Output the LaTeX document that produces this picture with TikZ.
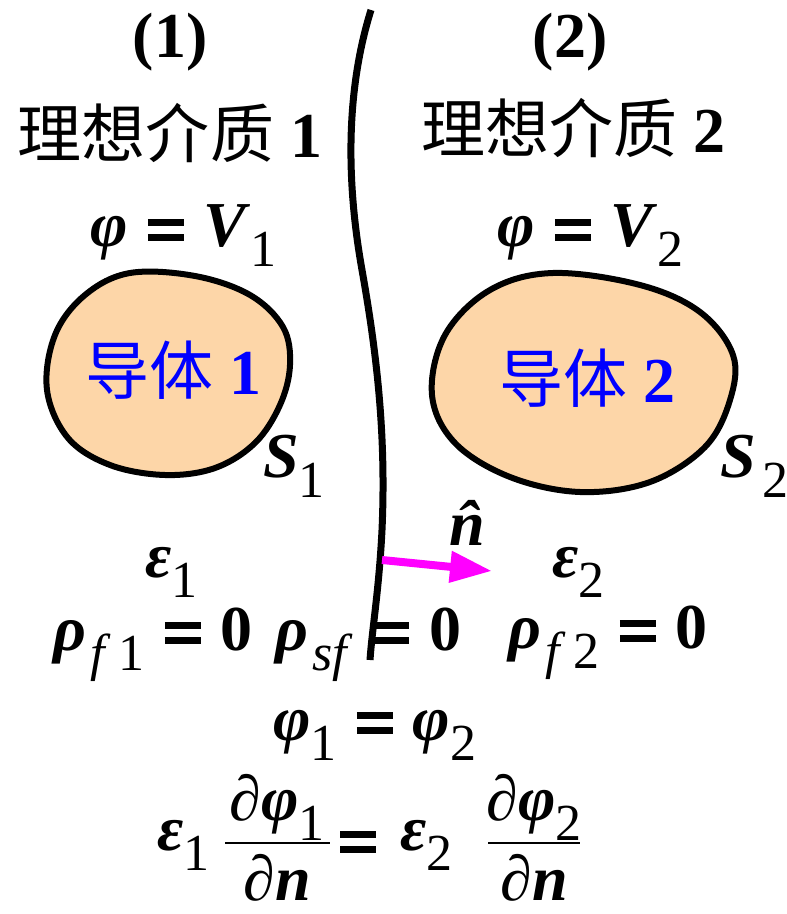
\documentclass[tikz,border=0pt]{standalone}
\usepackage{fontspec}
\setmainfont{Liberation Serif}
\newfontfamily\cjk{Noto Sans CJK SC}
\usetikzlibrary{arrows.meta}

\definecolor{peach}{RGB}{253,214,168}
\definecolor{normalpink}{RGB}{255,0,255}
\newcommand{\bi}[1]{\textbf{\textit{#1}}}
\newcommand{\lowsub}[1]{\raisebox{-10pt}{\fontsize{26}{26}\selectfont #1}}
\newcommand{\thickeq}{\rule[3pt]{18pt}{3.6pt}\hspace{-18pt}\rule[10.5pt]{18pt}{3.6pt}}
\newcommand{\eqsp}{\hspace{10pt}\thickeq\hspace{10pt}}

\begin{document}
\begin{tikzpicture}[x=0.5pt,y=-0.5pt,
  bigtext/.style={font=\fontsize{32}{38}\selectfont,inner sep=0pt},
  heading/.style={bigtext,font=\fontsize{32}{38}\selectfont\bfseries},
  eqn/.style={bigtext,anchor=base west},
  fracpart/.style={bigtext,anchor=base},
  cond/.style={draw=black,line width=3pt,fill=peach},
  condlabel/.style={bigtext,text=blue}]
\useasboundingbox (0,0) rectangle (786,914);

% the two conductors
\draw[cond] plot[smooth cycle,tension=0.6] coordinates {(130,273) (195,276) (250,295) (283,327) (290,365) (280,405) (255,443) (215,468) (165,475) (110,465) (68,438) (47,390) (55,335) (85,295)};
\draw[cond] plot[smooth cycle,tension=0.6] coordinates {(553,273) (640,285) (700,312) (733,355) (730,400) (705,447) (650,482) (580,492) (510,477) (455,443) (432,395) (445,335) (490,290)};

% interface between the two media
\draw[line width=3.5pt] (371,10) .. controls (346,90) and (346,180) .. (362,270)
  .. controls (378,360) and (386,440) .. (382,530)
  .. controls (379,590) and (372,630) .. (370,660);

% normal vector
\coordinate (nfoot) at (382,560);
\coordinate (ntip) at (492,571);
\draw[normalpink,line width=4pt,-{Triangle[length=21pt,width=15pt]}] (nfoot) -- (ntip);
\node[fracpart] (nhat) at (467,545) {\bi{\accent"02C6 n}};

% headings
\node[heading] (lab1) at (170,42) {(1)};
\node[heading] (lab2) at (570,42) {(2)};
\node[bigtext] (med1) at (170,133) {{\cjk 理想介质} \textbf{1}};
\node[bigtext] (med2) at (573,128) {{\cjk 理想介质} \textbf{2}};

% potentials and labels of the conductors
\node[eqn] (pot1) at (90,247) {\bi{φ}\eqsp\bi{V}\lowsub{1}};
\node[eqn] (pot2) at (497,247) {\bi{φ}\eqsp\bi{V}\lowsub{2}};
\node[condlabel] (body1) at (173,370) {{\cjk 导体} \textbf{1}};
\node[condlabel] (body2) at (587,378) {{\cjk 导体} \textbf{2}};
\node[eqn] (surf1) at (263,477) {\bi{S}\lowsub{1}};
\node[eqn] (surf2) at (720,477) {\bi{S}\hspace{3pt}\lowsub{2}};

% media
\node[eqn] (eps1) at (145,577) {\bi{ε}\lowsub{1}};
\node[eqn] (eps2) at (552,577) {\bi{ε}\lowsub{2}};
\node[eqn] (rho1) at (53,650) {\bi{ρ}\hspace{2pt}\lowsub{\textit{f}\hspace{4pt}1}\eqsp\textbf{0}};
\node[eqn] (rhos) at (275,650) {\bi{ρ}\hspace{2pt}\lowsub{\textit{sf}}\eqsp\textbf{0}};
\node[eqn] (rho2) at (508,648) {\bi{ρ}\hspace{2pt}\lowsub{\textit{f}\hspace{4pt}2}\eqsp\textbf{0}};

% boundary conditions
\node[eqn] (bc1) at (273,740) {\bi{φ}\lowsub{1}\eqsp\bi{φ}\lowsub{2}};
\node[eqn] (epsa) at (157,850) {\bi{ε}\lowsub{1}};
\node[fracpart] (numa) at (277,820) {\bi{∂φ}\lowsub{1}};
\node[fracpart] (dena) at (277,900) {\bi{∂n}};
\draw[line width=1pt] (225,843) -- (330,843);
\node[eqn] (eqa) at (340,859) {\thickeq};
\node[eqn] (epsb) at (400,850) {\bi{ε}\lowsub{2}};
\node[fracpart] (numb) at (534,820) {\bi{∂φ}\lowsub{2}};
\node[fracpart] (denb) at (534,900) {\bi{∂n}};
\draw[line width=1pt] (488,843) -- (580,843);
\end{tikzpicture}
\end{document}
